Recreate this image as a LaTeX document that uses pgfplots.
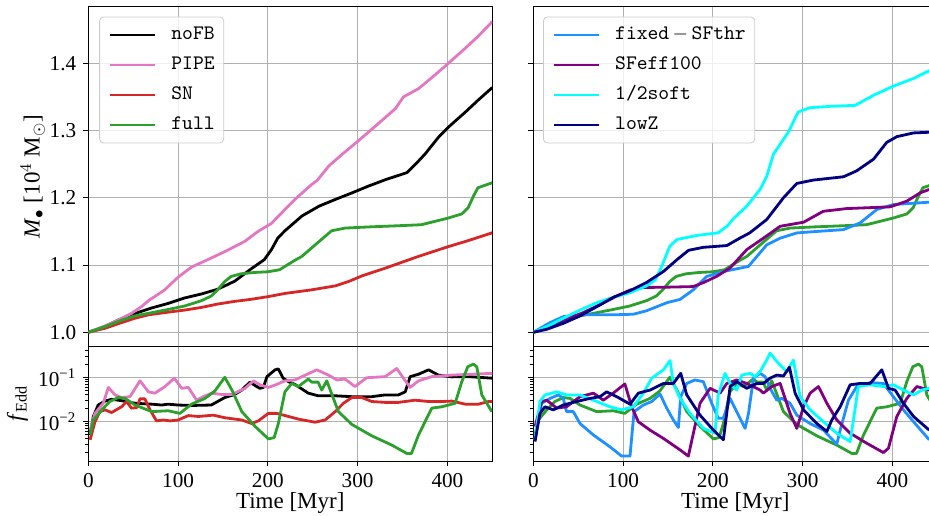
\documentclass[border=0pt]{standalone}
\usepackage{fontspec}
\setmainfont{Liberation Serif}
\usepackage{pgfplots}
\pgfplotsset{compat=1.18}

\definecolor{cpipe}{HTML}{E377C2}
\definecolor{csn}{HTML}{D62728}
\definecolor{cfull}{HTML}{2CA02C}
\definecolor{cfixed}{HTML}{1E90FF}
\definecolor{ceff}{HTML}{800080}
\definecolor{csoft}{HTML}{00FFFF}
\definecolor{clowz}{HTML}{000080}
\definecolor{cgrid}{HTML}{B0B0B0}

\pgfplotsset{
  panel/.style={
    scale only axis, width=202pt, anchor=north west,
    xmin=0, xmax=450, xtick={0,100,200,300,400},
    grid=major, major grid style={cgrid, line width=0.5pt},
    axis line style={line width=0.5pt},
    tick align=outside, tick pos=left,
    major tick length=2.5pt, minor tick length=1.5pt,
    tick style={black, line width=0.5pt},
    tick label style={font=\fontsize{10.6}{12}\selectfont},
    /pgf/number format/assume math mode=true,
    every axis plot/.append style={line width=1.4pt, mark=none, line join=round},
  },
  toprow/.style={panel, height=170pt, ymin=0.9786, ymax=1.4842,
    ytick={1.0,1.1,1.2,1.3,1.4},
    xticklabels={}, xtick style={draw=none},
    yticklabel style={/pgf/number format/.cd, fixed, fixed zerofill, precision=1},
    legend cell align=left,
    legend style={anchor=north west, draw=black!20, rounded corners=2pt,
      fill=white, fill opacity=0.8, text opacity=1, draw opacity=1,
      font=\ttfamily\fontsize{10.3}{12}\selectfont, inner sep=4.5pt,
      row sep=6pt, column sep=7.5pt,
      nodes={inner sep=0pt, text height=7pt, text depth=2pt}},
    legend image code/.code={\draw[#1] (0pt,0pt) -- (22.5pt,0pt);},
  },
  botrow/.style={panel, height=57.15pt, ymin=-2.902, ymax=-0.305,
    ytick={-2,-1}, yticklabels={10\textsuperscript{−2},10\textsuperscript{−1}},
    minor ytick={-2.699,-2.523,-2.398,-2.301,-2.222,-2.155,-2.097,-2.046,
      -1.699,-1.523,-1.398,-1.301,-1.222,-1.155,-1.097,-1.046,
      -0.699,-0.523,-0.398},
    xlabel={Time [Myr]},
    xlabel style={font=\fontsize{11.5}{14}\selectfont, at={(axis description cs:0.5,0)},
      anchor=base, yshift=-23.5pt},
  },
}

\begin{document}
\begin{tikzpicture}

% top left: BH mass
\begin{axis}[toprow, at={(44.15pt,-3.35pt)},
  legend style={at={(0.027,0.971)}},
  ylabel={\textit{M}$_{\bullet}$ [10$^4$ M$_{\odot}$]},
  ylabel style={font=\fontsize{11.5}{14}\selectfont, at={(axis description cs:-0.1064,0.5)},
    anchor=south, inner sep=0pt}]
\addplot[black] coordinates {(0,1.0) (18.5,1.0085) (33,1.018) (52,1.028) (70,1.036) (89,1.043) (107,1.051) (126,1.057) (144,1.064) (163,1.076) (181,1.094) (196,1.108) (204,1.123) (211,1.140) (219,1.151) (238,1.173) (257,1.1876) (275,1.1975) (294,1.2075) (312,1.2174) (331,1.227) (355,1.2375) (368,1.255) (375,1.265) (390,1.290) (401,1.305) (420,1.3275) (434,1.345) (450,1.364)};
\addlegendentry{noFB}
\addplot[cpipe] coordinates {(0,1.0) (18.5,1.0095) (33,1.018) (48,1.028) (59,1.038) (67,1.047) (85,1.063) (100,1.082) (115,1.097) (133,1.108) (152,1.120) (174,1.135) (189,1.150) (204,1.162) (219,1.1826) (230,1.1975) (249,1.22) (255,1.226) (268,1.2475) (283,1.265) (301,1.285) (327,1.315) (342,1.3325) (351,1.35) (368,1.3625) (386,1.3825) (401,1.40) (420,1.4225) (434,1.44) (450,1.462)};
\addlegendentry{PIPE}
\addplot[csn] coordinates {(0,1.0) (18.5,1.006) (37,1.0144) (52,1.021) (67,1.026) (89,1.030) (107,1.033) (126,1.037) (144,1.042) (163,1.046) (181,1.049) (200,1.053) (220,1.058) (249,1.0632) (275,1.069) (290,1.0756) (305,1.084) (331,1.0955) (368,1.113) (400,1.127) (423,1.1363) (450,1.148)};
\addlegendentry{SN}
\addplot[cfull] coordinates {(0,1.0) (18.5,1.0085) (37,1.018) (52,1.0244) (70,1.029) (89,1.034) (107,1.039) (126,1.047) (137,1.054) (144,1.063) (152,1.0756) (159,1.083) (170,1.087) (185,1.089) (200,1.090) (213,1.093) (222,1.1005) (230,1.107) (238,1.113) (257,1.135) (271,1.151) (286,1.155) (312,1.1567) (349,1.1587) (371,1.160) (386,1.165) (401,1.170) (416,1.176) (423,1.185) (429,1.2025) (434,1.215) (450,1.2224)};
\addlegendentry{full}
\end{axis}

% top right: BH mass, other runs
\begin{axis}[toprow, at={(266.65pt,-3.35pt)}, yticklabels={},
  legend style={at={(0.024,0.971)}}]
\addplot[cfull, forget plot] coordinates {(0,1.0) (18.5,1.0085) (37,1.018) (52,1.0244) (70,1.029) (89,1.034) (107,1.039) (126,1.047) (137,1.054) (144,1.063) (152,1.0756) (159,1.083) (170,1.087) (185,1.089) (200,1.090) (213,1.093) (222,1.1005) (230,1.107) (238,1.113) (257,1.135) (271,1.151) (286,1.155) (312,1.1567) (349,1.1587) (371,1.160) (386,1.165) (401,1.170) (416,1.176) (423,1.185) (429,1.2025) (434,1.215) (450,1.2224)};
\addplot[cfixed] coordinates {(0,1.0) (18.6,1.0144) (33.5,1.0234) (52,1.026) (89,1.026) (111.5,1.0269) (126,1.032) (148.7,1.044) (163.5,1.049) (178,1.063) (193,1.083) (212,1.0905) (225,1.094) (239.6,1.098) (260,1.130) (275,1.140) (293.5,1.1478) (315.8,1.150) (345.5,1.1527) (364,1.1627) (382.6,1.1826) (401,1.190) (441,1.1935)};
\addlegendentry{fixed\,$-$\,SFthr}
\addplot[ceff] coordinates {(0,1.0) (18.6,1.0085) (37,1.0194) (55.7,1.0294) (74,1.041) (93,1.054) (108,1.063) (123,1.0667) (145,1.067) (178,1.068) (189.6,1.074) (204,1.083) (219,1.0955) (237.8,1.123) (256.3,1.140) (275,1.1577) (301,1.1637) (323,1.180) (349,1.184) (397.5,1.1866) (416,1.195) (431,1.2075) (441,1.2124)};
\addlegendentry{SFeff100}
\addplot[csoft] coordinates {(0,1.0) (15,1.0085) (33.5,1.021) (52,1.033) (70.6,1.044) (89,1.052) (108,1.059) (126,1.069) (136,1.078) (143,1.098) (152,1.128) (160,1.138) (182,1.144) (206,1.148) (216,1.158) (223,1.169) (230,1.178) (237.8,1.1876) (252.6,1.2124) (260,1.232) (267.5,1.265) (284,1.2975) (295,1.3275) (308,1.334) (330.6,1.336) (358.5,1.3375) (379,1.3525) (401,1.366) (423.5,1.3775) (441,1.389)};
\addlegendentry{1/2soft}
\addplot[clowz] coordinates {(0,1.0) (15,1.0045) (33.5,1.0134) (52,1.0244) (70.6,1.038) (89,1.052) (108,1.062) (126,1.074) (145,1.0905) (160,1.108) (173,1.122) (189.6,1.1264) (215.6,1.129) (230,1.140) (241,1.1478) (260,1.1677) (278.6,1.20) (293.5,1.2214) (312,1.2264) (345.5,1.2313) (360,1.24) (379,1.2575) (393.7,1.2825) (405,1.291) (423.5,1.2965) (441,1.2975)};
\addlegendentry{lowZ}
\end{axis}

% bottom left: Eddington ratio (log10 values on a linear axis)
\begin{axis}[botrow, at={(44.15pt,-173.35pt)},
  ylabel={\textit{f}\textsubscript{Edd}},
  ylabel style={font=\fontsize{11.5}{14}\selectfont, at={(axis description cs:-0.1485,0.5)},
    anchor=south, inner sep=0pt}]
\addplot[black] coordinates {(2,-2.31) (5.6,-1.89) (11,-1.63) (18.6,-1.54) (26,-1.50) (37,-1.53) (52,-1.59) (70.6,-1.61) (81.7,-1.63) (89,-1.61) (100,-1.63) (115,-1.64) (137,-1.63) (152,-1.46) (163,-1.39) (171,-1.29) (180,-1.11) (186,-1.19) (191,-1.25) (195,-1.23) (199,-0.985) (208,-0.83) (211.7,-0.81) (217,-1.02) (223,-1.10) (230,-1.16) (245,-1.36) (256,-1.42) (275,-1.42) (293.5,-1.44) (315.8,-1.44) (330.6,-1.40) (345.5,-1.40) (353,-1.33) (358.5,-0.985) (367.8,-0.93) (379,-0.83) (390,-0.95) (405,-0.99) (423.5,-0.985) (450,-1.02)};
\addplot[cpipe] coordinates {(2,-2.2) (7.4,-1.82) (16.7,-1.59) (22.3,-1.23) (29.7,-1.40) (37,-1.46) (46.4,-1.44) (57.6,-1.08) (67,-1.33) (74.3,-1.36) (85.4,-1.21) (95.8,-1.02) (104,-1.25) (111.4,-1.23) (120.7,-1.52) (128,-1.44) (137.4,-1.36) (148.6,-1.39) (160,-1.39) (174.6,-1.25) (184,-1.08) (191,-1.17) (200.6,-1.23) (210,-1.16) (219,-1.08) (230,-1.06) (254.5,-0.83) (267.5,-0.95) (276.8,-1.06) (286,-1.04) (297,-1.21) (310,-1.01) (330.6,-0.985) (343.6,-0.80) (351,-1.02) (358.5,-1.23) (367.8,-1.08) (382.6,-0.985) (405,-0.95) (427,-0.93) (450,-0.91)};
\addplot[csn] coordinates {(2,-2.42) (7.4,-2.01) (13,-1.78) (18.6,-1.74) (26,-1.80) (37,-1.67) (42.7,-1.55) (48,-1.70) (53.9,-1.69) (57.6,-1.49) (63,-1.49) (68.7,-1.74) (76,-1.99) (83.6,-1.97) (91,-1.99) (100,-1.97) (111.4,-1.87) (122.6,-1.89) (139.3,-1.86) (152.3,-1.92) (171,-1.97) (182,-2.05) (189.4,-1.99) (200.6,-1.82) (210,-1.82) (223,-1.89) (234,-1.95) (252.6,-2.02) (263.8,-1.97) (275,-1.78) (284.2,-1.59) (293.5,-1.46) (304.6,-1.46) (315.8,-1.55) (330.6,-1.57) (345.5,-1.57) (364,-1.52) (379,-1.55) (393.8,-1.55) (405,-1.54) (419.8,-1.61) (434.6,-1.61) (445.8,-1.55) (450,-1.55)};
\addplot[cfull] coordinates {(2,-2.30) (5.6,-1.97) (15,-1.74) (24,-1.55) (33.4,-1.46) (40.9,-1.48) (52,-1.63) (70.6,-1.78) (89,-1.76) (102,-1.82) (115,-1.61) (130,-1.48) (141,-1.31) (152,-1.0) (160,-1.29) (171,-1.78) (186,-2.12) (200.6,-2.40) (207,-2.37) (211.7,-2.05) (219,-1.33) (226.6,-1.14) (234,-1.21) (245,-1.04) (249,-1.11) (256,-1.11) (260,-1.29) (265.6,-1.08) (278.6,-1.78) (293.5,-2.07) (315.8,-2.33) (338,-2.54) (354.8,-2.73) (360,-2.73) (367.8,-2.31) (382.6,-1.70) (393.8,-1.67) (408.6,-1.59) (416,-1.10) (422.7,-0.76) (429,-0.70) (432.7,-0.76) (438.3,-1.40) (449.5,-1.78)};
\end{axis}

% bottom right: Eddington ratio, other runs
\begin{axis}[botrow, at={(266.65pt,-173.35pt)}, yticklabels={}]
\addplot[cfull] coordinates {(2,-2.30) (5.6,-1.97) (15,-1.74) (24,-1.55) (33.4,-1.46) (40.9,-1.48) (52,-1.63) (70.6,-1.78) (89,-1.76) (102,-1.82) (115,-1.61) (130,-1.48) (141,-1.31) (152,-1.0) (160,-1.29) (171,-1.78) (186,-2.12) (200.6,-2.40) (207,-2.37) (211.7,-2.05) (219,-1.33) (226.6,-1.14) (234,-1.21) (245,-1.04) (249,-1.11) (256,-1.11) (260,-1.29) (265.6,-1.08) (278.6,-1.78) (293.5,-2.07) (315.8,-2.33) (338,-2.54) (354.8,-2.73) (360,-2.73) (367.8,-2.31) (382.6,-1.70) (393.8,-1.67) (408.6,-1.59) (416,-1.10) (422.7,-0.76) (429,-0.70) (432.7,-0.76) (438.3,-1.40) (449.5,-1.78)};
\addplot[cfixed] coordinates {(1.9,-2.42) (5.6,-1.97) (9.3,-1.59) (18.6,-1.48) (27.9,-1.40) (33.4,-1.48) (37,-1.78) (44.6,-1.78) (52,-2.05) (66.9,-2.31) (85.4,-2.58) (98.4,-2.79) (107.7,-2.79) (112.2,-1.78) (122.6,-1.63) (131.9,-1.55) (141.2,-1.38) (148.6,-1.70) (156,-1.97) (161.6,-2.14) (164.2,-1.44) (170.9,-1.14) (180,-1.06) (189.4,-1.10) (198.7,-1.59) (206,-1.93) (211.7,-1.93) (219.2,-1.48) (226.6,-1.78) (235.9,-2.16) (239.7,-1.82) (245.2,-1.02) (252.6,-0.91) (258.2,-0.985) (263.7,-1.25) (271.2,-1.52) (276.8,-1.48) (286,-1.59) (293.5,-1.86) (308.3,-2.05) (323.2,-2.20) (338,-2.52) (341.8,-2.20) (351,-1.52) (360.3,-1.21) (375.2,-1.12) (390,-1.14) (401,-1.44) (412.3,-1.74) (423.5,-2.01) (441,-2.42)};
\addplot[ceff] coordinates {(1.9,-2.12) (9.3,-1.55) (14.9,-1.52) (26,-1.70) (37,-1.67) (52,-1.44) (67,-1.36) (78,-1.52) (89,-1.36) (102,-1.15) (109.6,-1.67) (117,-2.01) (130,-2.20) (145,-2.39) (163.5,-2.65) (172.7,-2.79) (178.3,-2.27) (185.7,-1.59) (196.9,-1.25) (208,-1.36) (215.5,-1.14) (226.6,-1.06) (237.7,-1.14) (252.6,-1.29) (256.3,-1.36) (265.6,-1.21) (274.9,-1.14) (286,-1.82) (293.5,-2.16) (301,-1.67) (308.3,-1.36) (317.6,-1.21) (327,-1.59) (338,-1.97) (352.9,-2.27) (371.5,-2.50) (390,-2.71) (395.6,-2.61) (404.9,-1.89) (416,-1.48) (427.2,-1.21) (441,-1.29)};
\addplot[csoft] coordinates {(1.9,-2.42) (7.4,-1.55) (13,-1.40) (26,-1.33) (37,-1.40) (52,-1.40) (67,-1.52) (85.4,-1.67) (98.4,-1.74) (111.4,-1.67) (122.6,-1.36) (131.9,-1.02) (145,-0.83) (152.3,-0.62) (156,-1.14) (163.5,-1.48) (174.6,-1.82) (189.4,-2.16) (202.4,-2.27) (206,-1.40) (213.6,-0.91) (219.2,-1.14) (226.6,-1.29) (232.2,-0.95) (241.5,-0.91) (247,-0.985) (252.6,-0.87) (260,-0.61) (263.7,-0.45) (271.2,-0.64) (276.8,-0.76) (282.3,-0.87) (289.7,-0.61) (297.2,-1.44) (308.3,-1.74) (323.2,-2.01) (338,-2.27) (352.9,-2.46) (356.6,-1.97) (362,-1.21) (375,-1.17) (390,-1.21) (401,-1.17) (412.3,-1.29) (423.5,-1.40) (432.8,-1.29) (441,-1.25)};
\addplot[clowz] coordinates {(1.9,-2.46) (7.4,-1.82) (13,-1.67) (22.3,-1.74) (33.4,-1.63) (48.3,-1.55) (63,-1.48) (74.3,-1.44) (81.7,-1.33) (92.9,-1.44) (107.7,-1.61) (117,-1.36) (130,-1.29) (145,-1.14) (156,-1.14) (164.2,-0.91) (170.9,-1.40) (185.7,-1.86) (200.6,-2.20) (211.7,-2.42) (219.2,-1.21) (226.6,-1.10) (237.7,-1.25) (248.9,-1.14) (256.3,-1.14) (263.7,-1.02) (271.2,-0.95) (278.6,-0.97) (285.3,-0.77) (291.6,-1.36) (301,-1.74) (315.8,-2.05) (327,-2.23) (332.5,-1.97) (341.8,-1.67) (352.9,-1.17) (364,-1.14) (375.2,-1.14) (388.2,-0.83) (395.6,-1.25) (403,-1.29) (412.3,-1.59) (423.5,-1.89) (441,-2.20)};
\end{axis}

\pgfresetboundingbox
\path[use as bounding box] (0pt,0pt) rectangle (464.5pt,-257.5pt);
\end{tikzpicture}
\end{document}
